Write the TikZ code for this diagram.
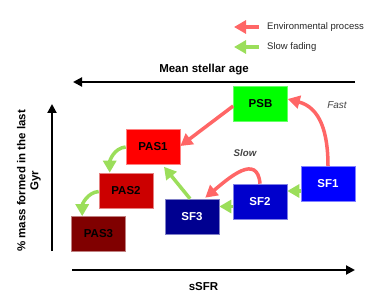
\documentclass[tikz,border=0pt]{standalone}
\usepackage{fontspec}
\setmainfont{Liberation Sans}
\usetikzlibrary{arrows.meta}
\definecolor{redarr}{RGB}{255,102,102}
\definecolor{greenarr}{RGB}{155,222,90}
\definecolor{psbc}{RGB}{0,255,0}
\definecolor{pasa}{RGB}{255,0,0}
\definecolor{pasb}{RGB}{204,0,0}
\definecolor{pasc}{RGB}{128,0,0}
\definecolor{sfa}{RGB}{0,0,255}
\definecolor{sfb}{RGB}{0,0,204}
\definecolor{sfc}{RGB}{0,0,144}
\definecolor{txtgray}{RGB}{68,68,68}
\begin{document}
\begin{tikzpicture}[x=1pt,y=-1pt,
  box/.style={minimum width=54pt, minimum height=35pt, inner sep=0pt,
    font=\bfseries\fontsize{11.5}{13}\selectfont, line width=0.6pt},
  redarrow/.style={draw=redarr, line width=3.5pt, -{Triangle[length=12pt,width=13pt]}},
  greenarrow/.style={draw=greenarr, line width=3.5pt, -{Triangle[length=12pt,width=13pt]}},
  axis/.style={draw=black, line width=2pt, -{Triangle[length=9pt,width=9pt]}},
  axislabel/.style={font=\bfseries\fontsize{11.5}{13}\selectfont},
  legendtext/.style={anchor=west, text=black!85, font=\fontsize{9.5}{11}\selectfont, inner sep=0pt}
]
\useasboundingbox (0,0) rectangle (374,299);

% legend
\coordinate (la1) at (259,27);
\coordinate (la2) at (234,27);
\coordinate (lb1) at (259,47);
\coordinate (lb2) at (234,47);
\draw[redarrow] (la1) -- (la2);
\draw[greenarrow] (lb1) -- (lb2);
\node[legendtext] (lt1) at (267,27) {Environmental process};
\node[legendtext] (lt2) at (267,47) {Slow fading};

% axes
\coordinate (ax1s) at (355,82);
\coordinate (ax1e) at (73,82);
\draw[axis] (ax1s) -- (ax1e);
\node[axislabel] (agelabel) at (204,70) {Mean stellar age};

\coordinate (ax2s) at (72,270);
\coordinate (ax2e) at (355,270);
\draw[axis] (ax2s) -- (ax2e);
\node[axislabel] (sfrlabel) at (203.5,287) {sSFR};

\coordinate (ax3s) at (52,251);
\coordinate (ax3e) at (52,104);
\draw[axis] (ax3s) -- (ax3e);
\node[axislabel, rotate=90, align=center] (ylabel) at (29,181) {\% mass formed in the last\\Gyr};

% boxes
\node[box, fill=psbc, draw=psbc!60!white] (PSB) at (260.5,104) {PSB};
\node[box, fill=pasa, draw=pasa!50!white] (PAS1) at (153,147) {PAS1};
\node[box, fill=pasb, draw=pasb!50!white] (PAS2) at (126,190.5) {PAS2};
\node[box, fill=pasc, draw=pasc!50!white] (PAS3) at (98.5,234) {PAS3};
\node[box, fill=sfc, draw=sfc!50!white, text=white] (SF3) at (192,216.5) {SF3};
\node[box, fill=sfb, draw=sfb!50!white, text=white] (SF2) at (260,201.5) {SF2};
\node[box, fill=sfa, draw=sfa!50!white, text=white] (SF1) at (328,184) {SF1};

% red arrows
\draw[redarrow] ([yshift=-2pt]PSB.west) -- ([yshift=1pt]PAS1.east);
\draw[redarrow] (SF1.north) to[out=90, in=-15, looseness=1.1] ([yshift=5pt]PSB.east);
\draw[redarrow] (SF2.north) to[out=95, in=40, looseness=1.4] ([xshift=-14pt, yshift=1pt]SF3.north east);
\node[text=txtgray, font=\itshape\fontsize{10}{12}\selectfont] (fastlabel) at (337,105) {Fast};
\node[text=txtgray, font=\bfseries\itshape\fontsize{9.7}{12}\selectfont] (slowlabel) at (245,153) {Slow};

% green arrows
\coordinate (g1) at ([yshift=-7pt]SF1.west);
\draw[greenarrow] (g1) -- (g1 -| SF2.east);
\coordinate (g2) at ([yshift=-5pt]SF2.west);
\draw[greenarrow] (g2) -- (g2 -| SF3.east);
\draw[greenarrow] ([xshift=-2pt]SF3.north) -- ([xshift=11pt, yshift=-2pt]PAS1.south);
\draw[greenarrow] (PAS1.west) to[out=185, in=90] ([xshift=11pt]PAS2.north west);
\draw[greenarrow] ([yshift=-1pt]PAS2.west) to[out=185, in=90] ([xshift=11pt]PAS3.north west);
\end{tikzpicture}
\end{document}
